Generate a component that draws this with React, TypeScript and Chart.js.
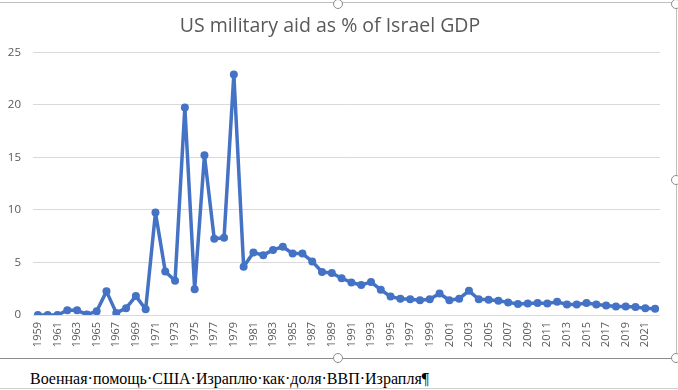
import React, { useEffect, useRef } from "react";
import { Chart, registerables } from "chart.js";

Chart.register(...registerables);

const years: string[] = [
  "1959", "1960", "1961", "1962", "1963", "1964", "1965", "1966", "1967", "1968",
  "1969", "1970", "1971", "1972", "1973", "1974", "1975", "1976", "1977", "1978",
  "1979", "1980", "1981", "1982", "1983", "1984", "1985", "1986", "1987", "1988",
  "1989", "1990", "1991", "1992", "1993", "1994", "1995", "1996", "1997", "1998",
  "1999", "2000", "2001", "2002", "2003", "2004", "2005", "2006", "2007", "2008",
  "2009", "2010", "2011", "2012", "2013", "2014", "2015", "2016", "2017", "2018",
  "2019", "2020", "2021", "2022",
];

const aidPct: number[] = [
  0.0, 0.0, 0.0, 0.45, 0.45, 0.05, 0.35, 2.25, 0.2, 0.65,
  1.8, 0.55, 9.75, 4.15, 3.25, 19.75, 2.45, 15.2, 7.25, 7.35,
  22.9, 4.6, 5.95, 5.7, 6.2, 6.5, 5.85, 5.85, 5.1, 4.1,
  4.0, 3.5, 3.1, 2.85, 3.15, 2.4, 1.75, 1.55, 1.5, 1.4,
  1.5, 2.05, 1.4, 1.55, 2.3, 1.5, 1.45, 1.35, 1.2, 1.05,
  1.1, 1.15, 1.1, 1.25, 1.0, 1.0, 1.15, 1.0, 0.9, 0.8,
  0.8, 0.75, 0.65, 0.6,
];

const yTicks: number[] = [0, 5, 10, 15, 20, 25];

const titleText = "US military aid as % of Israel GDP";
const captionText = "Военная·помощь·США·Израплю·как·доля·ВВП·Израпля¶";

const handle = (x: number, y: number): React.CSSProperties => ({
  position: "absolute",
  left: x - 5,
  top: y - 5,
  width: 8,
  height: 8,
  borderRadius: "50%",
  border: "1px solid #8c8c8c",
  background: "#fff",
  boxSizing: "content-box",
});

export default function App() {
  const canvasRef = useRef<HTMLCanvasElement | null>(null);

  useEffect(() => {
    if (!canvasRef.current) return;
    const chart = new Chart(canvasRef.current, {
      type: "line",
      data: {
        labels: years,
        datasets: [
          {
            label: titleText,
            data: aidPct,
            borderColor: "#4472C4",
            backgroundColor: "#4472C4",
            borderWidth: 3.5,
            borderJoinStyle: "round",
            borderCapStyle: "round",
            pointRadius: 4,
            pointBorderWidth: 0,
            pointBackgroundColor: "#4472C4",
            tension: 0,
          },
        ],
      },
      options: {
        animation: false,
        responsive: true,
        maintainAspectRatio: false,
        layout: { padding: { left: 0, right: 16, top: 0, bottom: 0 } },
        plugins: {
          legend: { display: false },
          tooltip: { enabled: false },
          title: {
            display: true,
            text: titleText,
            color: "#595959",
            font: { family: "Open Sans", size: 19.5, weight: "normal" },
            padding: { top: 15, bottom: 14 },
          },
        },
        scales: {
          x: {
            type: "category",
            offset: true,
            grid: { display: false, drawTicks: false },
            border: { display: false },
            afterFit: (scale: any) => {
              scale.height = 43;
            },
            ticks: {
              autoSkip: false,
              maxRotation: 90,
              minRotation: 90,
              padding: 7,
              color: "#595959",
              font: { family: "Open Sans", size: 11 },
              callback: (_v: any, i: number) => (i % 2 === 0 ? years[i] : ""),
            },
          },
          y: {
            min: yTicks[0],
            max: yTicks[yTicks.length - 1],
            afterBuildTicks: (scale: any) => {
              scale.ticks = yTicks.map((v) => ({ value: v }));
            },
            afterFit: (scale: any) => {
              scale.width = 33;
            },
            grid: { color: "#D9D9D9", lineWidth: 1, drawTicks: false },
            border: { display: false },
            ticks: {
              padding: 12,
              color: "#595959",
              font: { family: "Open Sans", size: 11.5 },
            },
          },
        },
      },
    });
    return () => chart.destroy();
  }, []);

  return (
    <div
      style={{
        position: "fixed",
        left: 0,
        top: 0,
        width: 678,
        height: 390,
        background: "#fff",
        overflow: "hidden",
      }}
    >
      <div style={{ position: "absolute", left: 0, top: 2, width: 676, height: 1, background: "#bfbfbf" }} />
      <div style={{ position: "absolute", left: 676, top: 2, width: 1, height: 356, background: "#bfbfbf" }} />
      <div style={{ position: "absolute", left: 0, top: 358, width: 677, height: 1, background: "#8c8c8c" }} />
      <div style={{ position: "absolute", left: 0, top: 0, width: 676, height: 358 }}>
        <canvas ref={canvasRef} />
      </div>
      <div style={handle(338, 4)} />
      <div style={handle(676, 4)} />
      <div style={handle(676, 180)} />
      <div style={handle(338, 358)} />
      <div style={handle(676, 358)} />
      <div
        style={{
          position: "absolute",
          left: 30,
          top: 370,
          fontFamily: "'Liberation Serif', 'Times New Roman', serif",
          fontSize: 16,
          lineHeight: "18px",
          color: "#000",
          whiteSpace: "nowrap",
        }}
      >
        {captionText}
      </div>
      <div style={{ position: "absolute", left: 0, top: 388, width: 678, height: 1, background: "#d0d0d0" }} />
    </div>
  );
}
